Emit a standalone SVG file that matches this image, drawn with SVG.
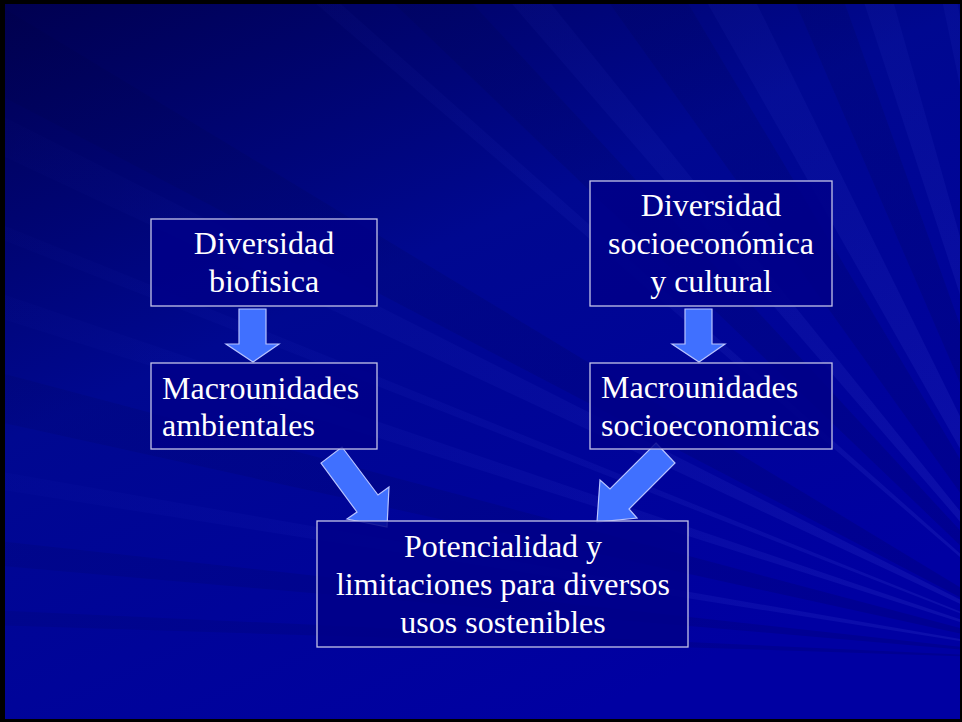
<svg xmlns="http://www.w3.org/2000/svg" width="962" height="722" viewBox="0 0 962 722">
<defs>
<linearGradient id="bg" x1="0" y1="0" x2="0.6" y2="1">
<stop offset="0" stop-color="#000050"/>
<stop offset="0.45" stop-color="#000890"/>
<stop offset="1" stop-color="#0000a2"/>
</linearGradient>
<radialGradient id="lite" gradientUnits="userSpaceOnUse" cx="1080" cy="660" r="1200">
<stop offset="0" stop-color="#8090ff" stop-opacity="0.12"/>
<stop offset="0.5" stop-color="#6070ff" stop-opacity="0.06"/>
<stop offset="1" stop-color="#4050ff" stop-opacity="0.015"/>
</radialGradient>
<radialGradient id="dark" gradientUnits="userSpaceOnUse" cx="1080" cy="660" r="1200">
<stop offset="0" stop-color="#000030" stop-opacity="0.15"/>
<stop offset="1" stop-color="#000030" stop-opacity="0.08"/>
</radialGradient>
<style>
.box{fill:#000088;fill-opacity:0.85;stroke:#c4c4e8;stroke-width:1.3}
.t{font-family:"Liberation Serif","Times New Roman",serif;font-size:32px;fill:#ffffff}
.c{text-anchor:middle}
.arr{fill:#4070ff;stroke:#b8c4ff;stroke-width:1.2;stroke-linejoin:miter}
.l{fill:url(#lite)}
.d{fill:url(#dark)}
</style>
</defs>
<rect x="0" y="0" width="962" height="722" fill="#000000"/>
<svg x="5" y="4" width="955" height="715" viewBox="5 4 955 715">
<rect x="5" y="4" width="955" height="715" fill="url(#bg)"/>
<g id="streaks">
<polygon class="l" points="1080,660 700,-10 750,-10"/>
<polygon class="l" points="1080,660 860,-10 890,-10"/>
<polygon class="l" points="1080,660 940,-10 955,-10"/>
<polygon class="l" points="1080,660 500,-10 540,-10"/>
<polygon class="l" points="1080,660 300,-10 325,-10"/>
<polygon class="l" points="1080,660 -10,110 -10,150"/>
<polygon class="l" points="1080,660 -10,290 -10,315"/>
<polygon class="l" points="1080,660 -10,470 -10,488"/>
<polygon class="l" points="1080,660 -10,220 -10,235"/>
<polygon class="d" points="1080,660 600,-10 680,-10"/>
<polygon class="d" points="1080,660 790,-10 840,-10"/>
<polygon class="d" points="1080,660 380,-10 460,-10"/>
<polygon class="d" points="1080,660 -10,0 -10,90"/>
<polygon class="d" points="1080,660 -10,370 -10,420"/>
<polygon class="d" points="1080,660 -10,540 -10,565"/>
<polygon class="d" points="1080,660 -10,610 -10,625"/>
</g>
</svg>
<g id="connectors">
<polygon class="arr" points="239,309 266,309 266,344 279,344 253,362 226,344 239,344"/>
<polygon class="arr" points="685,309 712,309 712,344 725,344 699,362 672,344 685,344"/>
<polygon class="arr" points="342,447 378,495 389,487 387,527 347,519 357,512 321,463"/>
<polygon class="arr" points="656,443 675,463 629,509 637,518 597,522 600,480 610,489"/>
</g>
<g id="n1">
<rect class="box" x="151" y="219" width="226" height="87"/>
<text class="t c" x="264" y="254">Diversidad</text>
<text class="t c" x="264" y="292">biofisica</text>
</g>
<g id="n2">
<rect class="box" x="590" y="181" width="242" height="125"/>
<text class="t c" x="711" y="216">Diversidad</text>
<text class="t c" x="711" y="254">socioeconómica</text>
<text class="t c" x="711" y="292">y cultural</text>
</g>
<g id="n3">
<rect class="box" x="151" y="363" width="226" height="86"/>
<text class="t" x="162" y="399">Macrounidades</text>
<text class="t" x="162" y="436">ambientales</text>
</g>
<g id="n4">
<rect class="box" x="590" y="363" width="242" height="86"/>
<text class="t" x="601" y="398">Macrounidades</text>
<text class="t" x="601" y="436">socioeconomicas</text>
</g>
<g id="n5">
<rect class="box" x="317" y="521" width="371" height="126"/>
<text class="t c" x="503" y="557">Potencialidad y</text>
<text class="t c" x="503" y="595">limitaciones para diversos</text>
<text class="t c" x="503" y="633">usos sostenibles</text>
</g>
</svg>
